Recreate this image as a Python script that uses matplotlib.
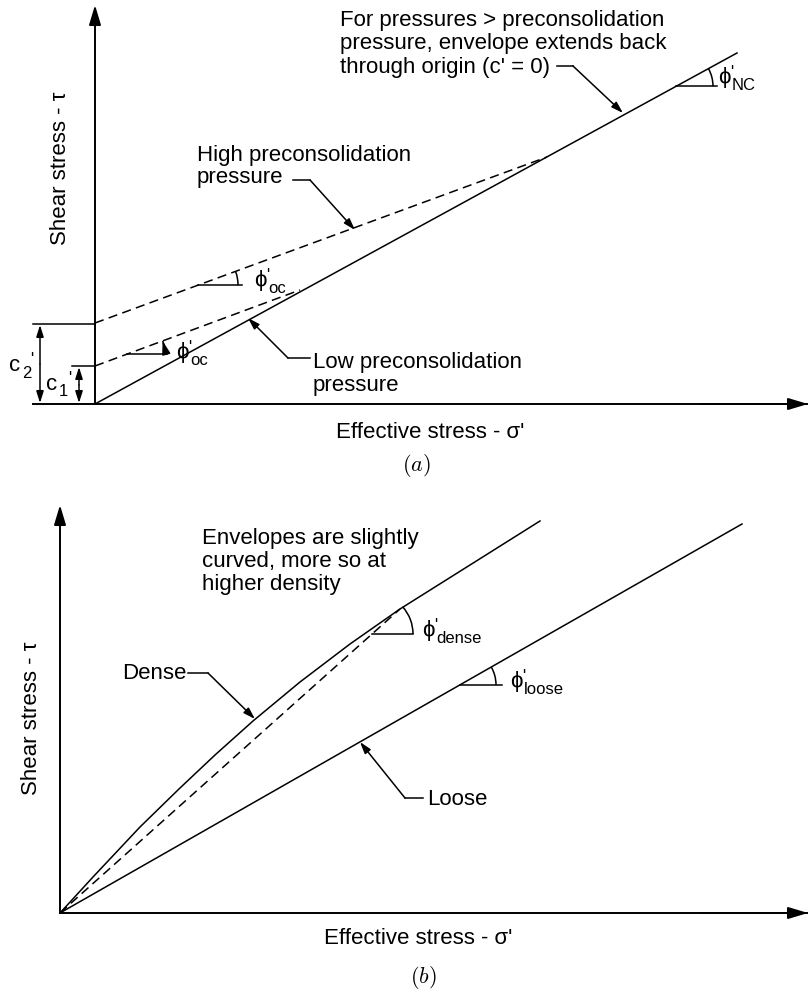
import matplotlib
matplotlib.use("Agg")
import matplotlib.pyplot as plt
from matplotlib.patches import Arc
import numpy as np

plt.rcParams['font.family'] = ['Liberation Sans', 'DejaVu Sans']

# Diagram coordinates are in figure pixels (x right, y down)

# ---- panel (a): overconsolidated clay envelopes ----
a_axis_x = [95, 95]
a_axis_y = [404, 5]
a_base_x = [33, 808]
a_base_y = [404, 404]
nc_x = [95, 737]
nc_y = [404, 53]
high_x = [95, 547]
high_y = [323, 157]
low_x = [95, 300]
low_y = [366, 290]
c2_x = [33, 95]
c2_y = [324, 324]
c1_x = [72, 95]
c1_y = [366, 366]

# ---- panel (b): sand envelopes ----
b_axis_x = [60, 60]
b_axis_y = [913, 505]
b_base_x = [60, 808]
b_base_y = [913, 913]
dense_x = [60, 93, 140, 180, 215, 253, 300, 350, 400, 470, 540]
dense_y = [913, 877, 827, 788, 755, 721, 682, 644, 609, 565, 521]
secant_x = [60, 400]
secant_y = [913, 609]
loose_x = [60, 742]
loose_y = [913, 524]

note_top = ["For pressures > preconsolidation",
            "pressure, envelope extends back",
            "through origin (c' = 0)"]
note_high = ["High preconsolidation", "pressure"]
note_low = ["Low preconsolidation", "pressure"]
note_curved = ["Envelopes are slightly", "curved, more so at", "higher density"]

FS = 16
LW = 1.1

fig = plt.figure(figsize=(8.08, 9.96), dpi=100)
ax = fig.add_axes([0, 0, 1, 1])
ax.set_xlim(0, 808)
ax.set_ylim(996, 0)
ax.set_axis_off()


def arrow(x0, y0, x1, y1, hl=0.7, hw=0.22, lw=LW):
    ax.annotate('', xy=(x1, y1), xytext=(x0, y0),
                arrowprops=dict(arrowstyle=f'-|>,head_length={hl},head_width={hw}',
                                lw=lw, color='black', shrinkA=0, shrinkB=0,
                                mutation_scale=10))


def leader(pts):
    # polyline leader ending in an arrowhead
    xs = [p[0] for p in pts]
    ys = [p[1] for p in pts]
    ax.plot(xs[:-1], ys[:-1], color='black', lw=LW)
    arrow(xs[-2], ys[-2], xs[-1], ys[-1])


def angle_mark(vx, vy, r, slope, ext=3):
    ang = np.degrees(np.arctan(slope))
    ax.add_patch(Arc((vx, vy), 2 * r, 2 * r, theta1=-ang, theta2=0,
                     color='black', lw=LW))
    ax.plot([vx, vx + r + ext], [vy, vy], color='black', lw=LW)


def phi_label(x, y, sub):
    ax.text(x, y, "ϕ", fontsize=FS, ha='left', va='center')
    ax.text(x + 12, y - 5, "'", fontsize=12, ha='left', va='center')
    ax.text(x + 14, y + 8, sub, fontsize=12, ha='left', va='center')


def lines_of_text(x, y0, dy, lines, ha='left'):
    for i, s in enumerate(lines):
        ax.text(x, y0 + i * dy, s, fontsize=FS, ha=ha, va='center')


# ================= panel (a) =================
ax.plot(a_base_x, a_base_y, color='black', lw=1.4)
arrow(a_axis_x[0], a_axis_y[0], a_axis_x[1], a_axis_y[1], hl=1.2, hw=0.36, lw=1.4)
arrow(700, 404, 808, 404, hl=1.2, hw=0.36, lw=1.4)

ax.plot(nc_x, nc_y, color='black', lw=LW)
ax.plot(high_x, high_y, color='black', lw=LW, dashes=(6, 3.5))
ax.plot(low_x, low_y, color='black', lw=LW, dashes=(6, 3.5))

# cohesion intercepts
ax.plot(c2_x, c2_y, color='black', lw=LW)
ax.plot(c1_x, c1_y, color='black', lw=LW)
for xm, ytop in [(40, c2_y[0]), (79, c1_y[0])]:
    arrow(xm, (ytop + 404) / 2, xm, ytop + 1)
    arrow(xm, (ytop + 404) / 2, xm, 403)
ax.text(9, 365, "c", fontsize=FS, ha='left', va='center')
ax.text(22, 373, "2", fontsize=12, ha='left', va='center')
ax.text(30, 359, "'", fontsize=12, ha='left', va='center')
ax.text(46, 384, "c", fontsize=FS, ha='left', va='center')
ax.text(59, 391, "1", fontsize=12, ha='left', va='center')
ax.text(68, 378, "'", fontsize=12, ha='left', va='center')

# friction angle marks
slope_nc = (nc_y[0] - nc_y[1]) / (nc_x[1] - nc_x[0])
slope_high = (high_y[0] - high_y[1]) / (high_x[1] - high_x[0])
slope_low = (low_y[0] - low_y[1]) / (low_x[1] - low_x[0])
angle_mark(676, nc_y[0] - slope_nc * (676 - nc_x[0]), 37, slope_nc, ext=4)
phi_label(718, 77, "NC")
angle_mark(198, high_y[0] - slope_high * (198 - high_x[0]), 40, slope_high, ext=4)
phi_label(254, 280, "oc")
vy = low_y[0] - slope_low * (127 - low_x[0])
angle_mark(127, vy, 38, slope_low, ext=2)
t = np.arctan(slope_low)
arrow(127 + 38 * np.cos(t * 0.5), vy - 38 * np.sin(t * 0.5),
      127 + 38 * np.cos(t), vy - 38 * np.sin(t), hl=0.8, hw=0.25)
phi_label(176, 352, "oc")

# annotations
lines_of_text(340, 20, 23.5, note_top)
leader([(557, 66), (573, 66), (623, 113)])
lines_of_text(197, 155, 22.5, note_high)
leader([(293, 180), (310, 180), (355, 230)])
lines_of_text(313, 362, 23, note_low)
leader([(310, 358), (288, 358), (248, 318)])

ax.text(60, 168, "Shear stress - τ", fontsize=FS, rotation=90,
        ha='center', va='center')
ax.text(430, 432, "Effective stress - σ'", fontsize=FS, ha='center', va='center')
ax.text(416, 465, r'$(a)$', math_fontfamily='cm', fontsize=16,
        ha='center', va='center')

# ================= panel (b) =================
ax.plot(b_base_x, b_base_y, color='black', lw=1.4)
arrow(b_axis_x[0], b_axis_y[0], b_axis_x[1], b_axis_y[1], hl=1.2, hw=0.36, lw=1.4)
arrow(700, 913, 808, 913, hl=1.2, hw=0.36, lw=1.4)

ax.plot(dense_x, dense_y, color='black', lw=LW)
ax.plot(secant_x, secant_y, color='black', lw=LW, dashes=(6, 3.5))
ax.plot(loose_x, loose_y, color='black', lw=LW)

slope_sec = (secant_y[0] - secant_y[1]) / (secant_x[1] - secant_x[0])
slope_loose = (loose_y[0] - loose_y[1]) / (loose_x[1] - loose_x[0])
angle_mark(372, secant_y[0] - slope_sec * (372 - secant_x[0]), 41, slope_sec, ext=0)
phi_label(422, 630, "dense")
angle_mark(460, loose_y[0] - slope_loose * (460 - loose_x[0]), 36, slope_loose, ext=6)
phi_label(510, 681, "loose")

lines_of_text(202, 538, 23, note_curved)
ax.text(186, 673, "Dense", fontsize=FS, ha='right', va='center')
leader([(188, 673), (208, 673), (255, 719)])
ax.text(427, 799, "Loose", fontsize=FS, ha='left', va='center')
leader([(423, 798), (405, 798), (360, 742)])

ax.text(32, 718, "Shear stress - τ", fontsize=FS, rotation=90,
        ha='center', va='center')
ax.text(418, 938, "Effective stress - σ'", fontsize=FS, ha='center', va='center')
ax.text(423, 977, r'$(b)$', math_fontfamily='cm', fontsize=16,
        ha='center', va='center')

fig.savefig('out.png', dpi=100)
